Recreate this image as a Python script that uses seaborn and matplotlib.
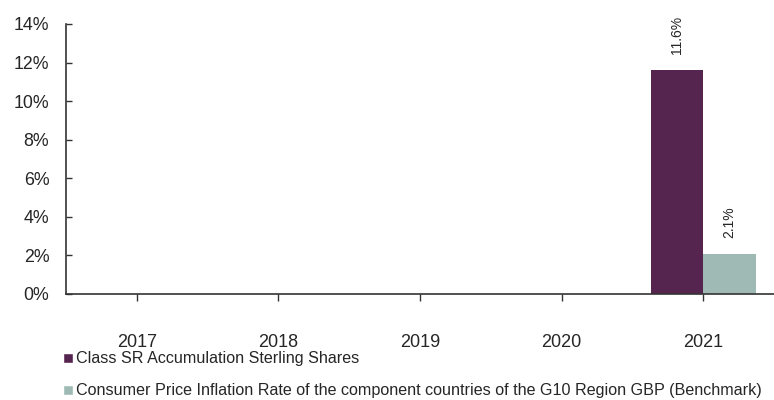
import numpy as np
import pandas as pd
import matplotlib
matplotlib.use("Agg")
import matplotlib.pyplot as plt
import seaborn as sns
from matplotlib.patches import Patch

years = ["2017", "2018", "2019", "2020", "2021"]
fund_name = "Class SR Accumulation Sterling Shares"
bench_name = "Consumer Price Inflation Rate of the component countries of the G10 Region GBP (Benchmark)"
fund_returns = [np.nan, np.nan, np.nan, np.nan, 11.6]
bench_returns = [np.nan, np.nan, np.nan, np.nan, 2.1]
y_ticks = [0, 2, 4, 6, 8, 10, 12, 14]

fund_color = "#55254f"
bench_color = "#9fbab5"

df = pd.DataFrame({
    "year": years * 2,
    "value": fund_returns + bench_returns,
    "series": [fund_name] * len(years) + [bench_name] * len(years),
})

sns.set_style("white")
plt.rcParams["font.family"] = ["Liberation Sans", "DejaVu Sans"]

fig = plt.figure(figsize=(7.74, 4.0), dpi=100)
ax = fig.add_axes([66 / 774, 1 - 294 / 400, 1 - 66 / 774, (294 - 24) / 400])

sns.barplot(data=df, x="year", y="value", hue="series", order=years,
            hue_order=[fund_name, bench_name],
            palette=[fund_color, bench_color], width=0.74, saturation=1,
            linewidth=0, ax=ax, legend=False)

# value labels above each drawn bar, rotated
for container in ax.containers:
    for bar in container:
        if bar is None:
            continue
        h = bar.get_height()
        if np.isnan(h):
            continue
        ax.annotate(f"{h:.1f}%", (bar.get_x() + bar.get_width() / 2, h),
                    xytext=(0, 11.5), textcoords="offset points",
                    rotation=90, ha="center", va="bottom", fontsize=10)

ax.set_xlim(-0.5, 4.5)
ax.set_ylim(0, 14)
ax.set_yticks(y_ticks)
ax.set_yticklabels([f"{t}%" for t in y_ticks], fontsize=12.8)
ax.set_xlabel("")
ax.set_ylabel("")
ax.tick_params(axis="x", labelsize=13, direction="out", length=5, width=1,
               color="#333333", pad=24, bottom=True)
ax.tick_params(axis="y", direction="in", length=4, width=1, color="#333333",
               pad=12, left=True)
for side in ["top", "right"]:
    ax.spines[side].set_visible(False)
for side in ["left", "bottom"]:
    ax.spines[side].set_color("#333333")
    ax.spines[side].set_linewidth(1.2)

handles = [Patch(facecolor=fund_color, label=fund_name),
           Patch(facecolor=bench_color, label=bench_name)]
fig.legend(handles=handles, loc="upper left", bbox_to_anchor=(57 / 774, 1 - 345 / 400),
           frameon=False, fontsize=11.6, handlelength=0.6, handleheight=0.6,
           handletextpad=0.15, labelspacing=1.05, borderaxespad=0)

fig.savefig("out.png", dpi=100)
